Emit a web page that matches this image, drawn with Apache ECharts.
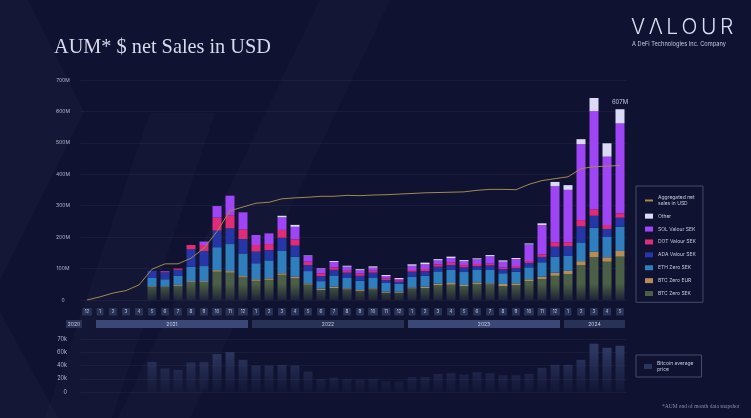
<!DOCTYPE html>
<html><head><meta charset="utf-8">
<script src="https://cdn.jsdelivr.net/npm/echarts/dist/echarts.min.js"></script>
<style>html,body{margin:0;padding:0;background:#0f1231;}#c{width:751px;height:418px;}</style>
</head><body><div id="c"></div>
<script>
const categories = ['2020-12','2021-01','2021-02','2021-03','2021-04','2021-05','2021-06','2021-07','2021-08','2021-09','2021-10','2021-11','2021-12',
  '2022-01','2022-02','2022-03','2022-04','2022-05','2022-06','2022-07','2022-08','2022-09','2022-10','2022-11','2022-12',
  '2023-01','2023-02','2023-03','2023-04','2023-05','2023-06','2023-07','2023-08','2023-09','2023-10','2023-11','2023-12',
  '2024-01','2024-02','2024-03','2024-04','2024-05'];
const monthLabels = ['12','1','2','3','4','5','6','7','8','9','10','11','12',
  '1','2','3','4','5','6','7','8','9','10','11','12',
  '1','2','3','4','5','6','7','8','9','10','11','12',
  '1','2','3','4','5'];
const yearLabels = ['2020','2021','2022','2023','2024'];
const mainTicks = ['0','100M','200M','300M','400M','500M','600M','700M'];
const btcTicks = ['0','20k','40k','60k','70k'];

// values in million USD
const btcZeroSek = [0,0,0,0,0, 42,41,45,57,57,90,87,72, 61,64,80,69,49,32,38,34,29,34,23,23, 37,38,47,49,44.5,51,50,44.5,47.7,60.4,67,77, 82,111,136,122,138];
const btcZeroEur = [0,0,0,0,0, 2,2,3,3,3,5,5,4, 5,5,5,5,4,4,4,3,3,3,3.5,3.5, 3,4.4,5,5,3.2,5,3,6.5,5.3,5.6,7,10, 10.6,12.6,17.8,14,18];
const ethZeroSek = [0,0,0,0,0, 26,23,29,46,48,73,86,72, 51,57,71,64,39,24,36,33,29,33,27.5,24.5, 34,34.6,39,41.5,41.3,39.5,42.5,34,37,38,46,51, 48.7,59.6,76.3,64.5,77];
const adaValourSek = [0,0,0,0,0, 23,22,19,55,48,53,50,46, 37,33,42,35,19,16,18,17,16,17,9.5,7, 16,15,15,15.5,15,12.5,14.5,13.6,12,14,17,31.6, 30,51,38,25.5,29];
const dotValourSek = [0,0,0,0,0, 0,2,4,14,19,41,42,31, 21,19,25,20,11,9,8,6,7,6,5.5,4.5, 5.5,6.6,7.5,7.8,7,6.5,5.5,5.4,6,6,8.6,14.4, 12.8,20,20.6,12.7,13.8];
const solValourSek = [0,0,0,0,0, 0,2,0,0,11,37,62,54, 32,34,40,40,18,14,17,13,11,10,7,4.5, 13.5,15,12.5,14.8,12,15,23.5,18,22.4,53,93,178, 166.4,241.5,312.4,217.4,286.2];
const other = [0,0,0,0,0, 0,0,0,0,0,0,0,0, 0,0,5,6,1.5,1.5,3,3,3,4,3.5,3, 4.5,5.3,4,4.4,4,3,4,4,3.2,3,5.4,13.7, 15,16,41.7,42.5,45];
const aggregated = [0,10,22,30,48,98,115,115,133,165,218,284,296, 308,311,322,325,327,330,330,333,332,334,335,337, 339,341,342,343,344,349,352,352,351,368,380,386, 392,418,424,426,428];
// thousand USD
const bitcoinPrice = [null,null,null,null,null, 45.7,35.6,33.5,44.7,45.2,57.4,60.5,48.8, 40.1,40.1,41.1,40.1,31,19.8,21.8,19.8,18.8,19.8,16.3,15.7, 22.4,22.9,27.4,28.4,26.4,30,28.4,25.4,25.4,27.4,36.6,41.1, 41.1,48.8,73.2,67,70.1];

const stacks = [
  {name:'BTC Zero SEK', data:btcZeroSek, color:'#4b5e46'},
  {name:'BTC Zero EUR', data:btcZeroEur, color:'#b38d55'},
  {name:'ETH Zero SEK', data:ethZeroSek, color:'#2f7fbf'},
  {name:'ADA Valour SEK', data:adaValourSek, color:'#2536a6'},
  {name:'DOT Valour SEK', data:dotValourSek, color:'#e02b78'},
  {name:'SOL Valour SEK', data:solValourSek, color:'#9f45f5'},
  {name:'Other', data:other, color:'#dcdaf6'}
];
const totals = categories.map((c,i)=>stacks.reduce((s,st)=>s+st.data[i],0));

// year groups from categories
const yearGroups = [];
categories.forEach((c,i)=>{
  const y = c.slice(0,4);
  const last = yearGroups[yearGroups.length-1];
  if (last && last.year===y) last.end=i; else yearGroups.push({year:y,start:i,end:i});
});

const chart = echarts.init(document.getElementById('c'), null, {renderer:'canvas'});
const FONT = 'Inter, "Noto Sans", sans-serif';

const barSeries = stacks.map((st,k)=>{
  let color = st.color;
  if (k===0) color = {type:'linear',x:0,y:284,x2:0,y2:303,global:true,colorStops:[{offset:0,color:st.color},{offset:1,color:'rgba(75,94,70,0.08)'}]};
  const isLast = k===stacks.length-1;
  return {
    name: st.name, type:'bar', stack:'aum', xAxisIndex:0, yAxisIndex:0, barWidth:9,
    itemStyle:{color},
    data: st.data.map((v,i)=> (isLast && i===categories.length-1) ? {value:v,label:{show:true}} : v),
    label: isLast ? {show:false, position:'top', distance:4, fontSize:6, color:'#c4c8dc', fontFamily:FONT,
      formatter:p=>Math.round(totals[p.dataIndex])+'M'} : undefined,
    z:2
  };
});

const option = {
  backgroundColor:'#0f1231',
  animation:false,
  title:{text:'AUM* $ net Sales in USD', left:54, top:38, padding:0,
    textStyle:{fontFamily:'"Liberation Serif", "DejaVu Serif", serif', fontSize:20.3, fontWeight:'normal', color:'#d8d9ea'}},
  graphic:[
    {type:'polygon', z:-10, silent:true, shape:{points:[[0,0],[28,0],[84,112],[0,280]]}, style:{fill:'rgba(255,255,255,0.025)'}},
    {type:'polygon', z:-10, silent:true, shape:{points:[[0,312],[58,418],[0,418]]}, style:{fill:'rgba(255,255,255,0.025)'}},
    {type:'polygon', z:-10, silent:true, shape:{points:[[150,113],[215,113],[112,418],[45,418]]}, style:{fill:'rgba(255,255,255,0.02)'}},
    {type:'polygon', z:-10, silent:true, shape:{points:[[320,0],[390,0],[190,418],[118,418]]}, style:{fill:'rgba(255,255,255,0.018)'}},
    {type:'text', left:631, top:17, style:{text:'V\u2006Λ\u2006L\u2006O\u2006U\u2006R', fontFamily:FONT, fontSize:21, fontWeight:300, fill:'#dcdcf0'}},
    {type:'text', left:632, top:41, style:{text:'A DeFi Technologies Inc. Company', fontFamily:FONT, fontSize:5.7, fill:'#c8c9dc'}},
    {type:'text', left:662, top:404, style:{text:'*AUM end of month data snapshot', fontFamily:'"Liberation Serif", serif', fontSize:5.5, fill:'#8a90a8'}}
  ],
  legend:[
    {orient:'vertical', left:636, top:186, itemWidth:8, itemHeight:5, itemGap:7.4, padding:[9,7,6,8],
     borderColor:'#464c6c', borderWidth:1, selectedMode:false,
     textStyle:{color:'#c6cadc', fontSize:5, lineHeight:5.5, fontFamily:FONT},
     formatter:n=> n==='Aggregated net sales in USD' ? 'Aggregated net\nsales in USD' : n,
     data:[{name:'Aggregated net sales in USD', itemStyle:{opacity:0}}].concat(stacks.slice().reverse().map(s=>({name:s.name, icon:'rect', itemStyle:{color:s.color}})))},
    {orient:'vertical', left:636, top:355, itemWidth:8, itemHeight:5, padding:[6,8,5,8],
     borderColor:'#464c6c', borderWidth:1, selectedMode:false,
     textStyle:{color:'#c6cadc', fontSize:5, lineHeight:5.5, fontFamily:FONT},
     formatter:()=> 'Bitcoin average\nprice',
     data:[{name:'Bitcoin average price', icon:'rect', itemStyle:{color:'#2c365c'}}]}
  ],
  grid:[
    {left:80.5, top:80, width:546, height:220},
    {left:80.5, top:339.2, width:546, height:52.8}
  ],
  xAxis:[
    {type:'category', gridIndex:0, data:categories, axisLine:{show:false}, axisTick:{show:false},
     axisLabel:{interval:0, margin:8, fontSize:4.5, color:'#c0c4dc', fontFamily:FONT, backgroundColor:'#2a3458',
       padding:[1.5,2.5,1,2.5], formatter:(v,i)=>monthLabels[i]}},
    {type:'category', gridIndex:1, data:categories, axisLine:{show:false}, axisTick:{show:false}, axisLabel:{show:false}}
  ],
  yAxis:[
    {type:'value', gridIndex:0, min:0, max:700, interval:100,
     axisLabel:{fontSize:5, color:'#b4b8cc', fontFamily:FONT, align:'center', margin:17.5, formatter:v=>mainTicks[Math.round(v/100)]},
     splitLine:{lineStyle:{color:'rgba(255,255,255,0.045)', width:1}}},
    {type:'value', gridIndex:1, min:0, max:80, interval:20,
     axisLabel:{fontSize:5.5, color:'#b4b8cc', fontFamily:FONT, align:'right', margin:13.5, formatter:v=>btcTicks[Math.round(v/20)]},
     splitLine:{lineStyle:{color:'rgba(255,255,255,0.045)', width:1}}}
  ],
  series: barSeries.concat([
    {name:'Aggregated net sales in USD', type:'line', xAxisIndex:0, yAxisIndex:0, data:aggregated, symbol:'none',
     lineStyle:{color:'#a38a50', width:1}, itemStyle:{color:'#a38a50'}, z:5},
    {name:'Bitcoin average price', type:'bar', xAxisIndex:1, yAxisIndex:1, data:bitcoinPrice, barWidth:9,
     itemStyle:{color:{type:'linear',x:0,y:350,x2:0,y2:394,global:true,colorStops:[{offset:0,color:'#2d3760'},{offset:1,color:'rgba(45,55,96,0.05)'}]}}},
    {name:'years', type:'custom', xAxisIndex:0, yAxisIndex:0, clip:false, silent:true,
     data: yearGroups.map((g,k)=>[g.start,0,g.end,k]),
     renderItem:(params,api)=>{
       const p0 = api.coord([api.value(0),0]);
       const p1 = api.coord([api.value(2),0]);
       let x0 = p0[0]-4, x1 = p1[0]+5;
       if (api.value(0)===api.value(2)) { x0 = p0[0]-21; x1 = p0[0]-5; }
       const k = api.value(3);
       const y = p0[1]+20;
       return {type:'group', children:[
         {type:'rect', shape:{x:x0,y:y,width:x1-x0,height:8}, style:{fill: k%2 ? '#3a4878' : '#283257'}},
         {type:'text', style:{text:yearLabels[k], x:(x0+x1)/2, y:y+4, align:'center', verticalAlign:'middle', fontSize:5, fontFamily:FONT, fill:'#c8cce0'}}
       ]};
     }}
  ])
};
chart.setOption(option);
</script>
</body></html>
